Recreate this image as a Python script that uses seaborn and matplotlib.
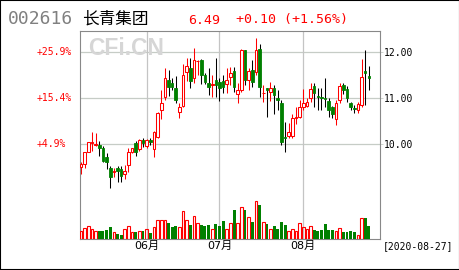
import numpy as np
import pandas as pd
import matplotlib
matplotlib.use("Agg")
import matplotlib.pyplot as plt
import matplotlib.transforms as mtransforms
from matplotlib.patches import Rectangle
import seaborn as sns

# ---------------- data ----------------
opens = [9.51, 9.57, 9.84, 10.02, 9.98, 9.98, 9.91, 9.73, 9.48, 9.40, 9.48, 9.46, 9.36, 9.54, 9.84, 10.02, 9.89, 10.09,
         9.97, 10.09, 9.89, 10.15, 10.75, 11.03, 11.40, 11.33, 11.23, 10.71, 10.84, 11.57, 11.66, 11.44, 11.80, 11.83, 11.51, 11.33, 11.28, 11.40,
         11.35, 11.38, 11.31, 11.46, 11.59, 11.10, 11.18, 12.04, 11.40, 11.61, 11.57, 12.08, 11.11, 11.23, 11.14, 11.23, 11.01, 10.90, 10.15, 10.19, 10.17, 10.58, 10.60,
         10.80, 10.84, 11.01, 11.27, 11.05, 11.02, 11.00, 10.95, 10.80, 10.56, 10.97, 11.29, 11.20, 10.90, 10.78, 10.75, 10.86, 11.59, 11.48]
highs = [9.61, 9.84, 10.05, 10.27, 10.24, 10.07, 9.97, 9.82, 9.53, 9.49, 9.53, 9.53, 9.55, 9.91, 9.93, 10.08, 10.12, 10.13,
         10.12, 10.14, 10.28, 10.70, 11.18, 11.66, 11.62, 11.45, 11.48, 10.90, 11.75, 11.87, 11.87, 12.10, 11.84, 11.85, 11.55, 11.66, 11.51, 11.87,
         11.44, 11.50, 11.66, 11.68, 11.68, 11.33, 12.08, 12.04, 11.66, 11.83, 12.30, 12.19, 11.29, 11.23, 11.35, 11.29, 11.18, 10.97, 10.49, 10.47, 10.65, 10.80, 10.97,
         11.20, 11.00, 11.33, 11.33, 11.23, 11.23, 11.44, 11.01, 10.84, 10.97, 11.33, 11.33, 11.27, 10.92, 10.86, 10.92, 11.85, 12.06, 11.70]
lows = [9.35, 9.48, 9.83, 9.86, 9.96, 9.75, 9.62, 9.46, 9.05, 9.28, 9.18, 9.18, 9.25, 9.39, 9.80, 9.75, 9.85, 9.95,
        9.93, 9.98, 9.72, 10.13, 10.54, 10.97, 11.05, 11.18, 10.90, 10.58, 10.80, 11.38, 11.22, 11.33, 11.50, 11.30, 11.30, 11.08, 11.03, 11.03,
        10.95, 11.12, 11.12, 11.29, 11.14, 10.90, 11.14, 11.29, 11.18, 11.25, 11.51, 11.03, 10.92, 10.60, 10.95, 10.65, 10.75, 9.98, 9.83, 10.13, 10.13, 10.45, 10.58,
        10.75, 10.80, 10.92, 10.82, 10.75, 10.75, 10.82, 10.60, 10.58, 10.43, 10.90, 11.10, 10.92, 10.75, 10.69, 10.69, 10.82, 10.86, 11.18]
closes = [9.57, 9.84, 10.04, 10.04, 10.00, 9.93, 9.64, 9.61, 9.29, 9.42, 9.43, 9.31, 9.43, 9.84, 9.91, 9.84, 10.09, 10.02,
          10.09, 10.04, 10.26, 10.67, 10.90, 11.44, 11.25, 11.25, 10.97, 10.80, 11.51, 11.70, 11.38, 11.83, 11.81, 11.51, 11.35, 11.25, 11.30, 11.29,
          11.23, 11.25, 11.40, 11.55, 11.25, 11.18, 12.04, 11.40, 11.59, 11.35, 12.06, 11.25, 11.12, 11.18, 11.23, 11.08, 10.97, 10.04, 10.13, 10.26, 10.58, 10.60, 10.80,
          10.90, 10.92, 11.20, 11.12, 11.03, 11.01, 10.99, 10.75, 10.65, 10.90, 11.27, 11.18, 11.01, 10.82, 10.77, 10.88, 11.46, 11.55, 11.44]
volumes = [8300, 11000, 13300, 10000, 8300, 8300, 8300, 9300, 12300, 7000, 5300, 4300, 10000, 13300, 6700, 7000, 8300, 7700,
           10000, 6000, 12000, 19300, 18700, 19300, 16000, 11700, 13300, 11700, 28300, 19300, 14300, 23300, 16000, 14300, 13300, 14300, 10000, 14700,
           12700, 18300, 10000, 16000, 29300, 16000, 32000, 29300, 22000, 17300, 38300, 34300, 17000, 15300, 10000, 12700, 10300, 16700, 14300, 7700, 10000, 7700, 16000,
           12000, 10000, 13300, 8700, 7700, 8700, 15300, 9300, 8700, 8300, 11000, 6700, 6700, 8300, 6700, 4300, 21000, 21000, 13300]
month_labels = ["06月", "07月", "08月"]
month_start_idx = [18, 38, 61]
price_ticks = [10.0, 11.0, 12.0]
price_tick_labels = ["10.00", "11.00", "12.00"]
pct_labels = ["+4.9%", "+15.4%", "+25.9%"]
stock_code = "002616"
stock_name = "长青集团"
last_price = "6.49"
change_text = "+0.10 (+1.56%)"
date_text = "[2020-08-27]"

# ---------------- style ----------------
sns.set_theme(style="white")
plt.rcParams["font.family"] = ["DejaVu Sans", "Noto Sans CJK SC"]
UP = "#ff0000"
DOWN = "#008000"
GRID_H = "#c6ccc6"
GRID_V = "#c4c4c4"
FRAME = "#888888"
MONO = ["DejaVu Sans Mono", "Noto Sans CJK SC"]

W, H = 460, 270
fig = plt.figure(figsize=(W / 100, H / 100), dpi=100)
fig.patch.set_facecolor("white")


def fx(px):
    return px / W


def fy(py):
    return 1 - py / H


L, R, T, B = 80, 380, 31, 239
ax = fig.add_axes([fx(L), fy(B), fx(R) - fx(L), fy(T) - fy(B)])
ax.set_facecolor("white")

n = len(opens)
idx = np.arange(n)
o = np.array(opens)
c = np.array(closes)
h = np.array(highs)
lo = np.array(lows)
up = c >= o

# grid
for v in price_ticks:
    ax.axhline(v, color=GRID_H, lw=0.9, zorder=0)
for m in month_start_idx:
    ax.axvline(m, color=GRID_V, lw=0.9, zorder=0)

# wicks
ax.vlines(idx[up], lo[up], h[up], color=UP, lw=0.75, zorder=2)
ax.vlines(idx[~up], lo[~up], h[~up], color="black", lw=0.75, zorder=2)

# bodies
bw = 0.72
for i in range(n):
    bot = min(o[i], c[i])
    ht = abs(c[i] - o[i])
    if up[i]:
        ax.add_patch(Rectangle((i - bw / 2, bot), bw, ht, facecolor="white",
                               edgecolor=UP, lw=0.75, zorder=3))
    else:
        ax.add_patch(Rectangle((i - bw / 2, bot), bw, ht, facecolor=DOWN,
                               edgecolor=DOWN, lw=0.6, zorder=3))

xl = (-0.3, 82.07)
ax.set_xlim(*xl)
ax.set_ylim(7.941, 12.463)

# right price ticks
ax.yaxis.tick_right()
ax.set_yticks(price_ticks)
ax.set_yticklabels(price_tick_labels, family=MONO, fontsize=7, color="black")
ax.tick_params(axis="y", which="both", right=True, length=2, width=0.6,
               color=GRID_H, pad=1)
# month ticks
ax.set_xticks(month_start_idx)
ax.set_xticklabels(month_labels, fontsize=8, color="black",
                   family=["DejaVu Sans", "Noto Sans CJK SC"])
ax.tick_params(axis="x", length=0, pad=1.5)
for s in ax.spines.values():
    s.set_color(FRAME)
    s.set_linewidth(0.8)

# left percent labels
blend = mtransforms.blended_transform_factory(fig.transFigure, ax.transData)
for v, lab in zip(price_ticks, pct_labels):
    ax.text(fx(37), v, lab, transform=blend, ha="left", va="center",
            color=UP, fontsize=7, family=MONO, clip_on=False)

# watermark
ax.text(fx(88), fy(48.5), "CFi.CN", transform=fig.transFigure, ha="left", va="center",
        fontsize=16.5, fontweight="bold", family=["Liberation Sans"], color="#d6d6d6", zorder=1)

# volume panel (seaborn)
df = pd.DataFrame({"idx": idx, "vol": volumes, "up": up})
vax = fig.add_axes([fx(L), fy(B), fx(R) - fx(L), fy(195) - fy(B)])
vax.patch.set_alpha(0)
sns.barplot(data=df[~df.up], x="idx", y="vol", native_scale=True, color=DOWN,
            saturation=1, width=0.8, errorbar=None, linewidth=0, ax=vax)
sns.barplot(data=df[df.up], x="idx", y="vol", native_scale=True, color=UP,
            saturation=1, fill=False, width=0.72, errorbar=None, linewidth=0.8, ax=vax)
vax.set_xlim(*xl)
vax.set_ylim(0, 44000)
vax.axis("off")

# header
fig.text(fx(8), fy(19), stock_code, ha="left", va="center", color="#808080",
         fontsize=13, family=MONO)
fig.text(fx(82), fy(19.5), stock_name, ha="left", va="center", color="black",
         fontsize=12, family=["Noto Sans CJK SC"])
fig.text(fx(188), fy(20), last_price, ha="left", va="center", color=UP,
         fontsize=9.5, family=MONO)
fig.text(fx(236), fy(20), change_text, ha="left", va="center", color=UP,
         fontsize=9.5, family=MONO)
fig.text(fx(383), fy(246), date_text, ha="left", va="center", color="black",
         fontsize=7, family=MONO)

# outer border
fig.patches.append(Rectangle((0, 0), 1, 1, transform=fig.transFigure, fill=False,
                             edgecolor="black", lw=1.5, zorder=10))

fig.savefig("out.png", dpi=100)
